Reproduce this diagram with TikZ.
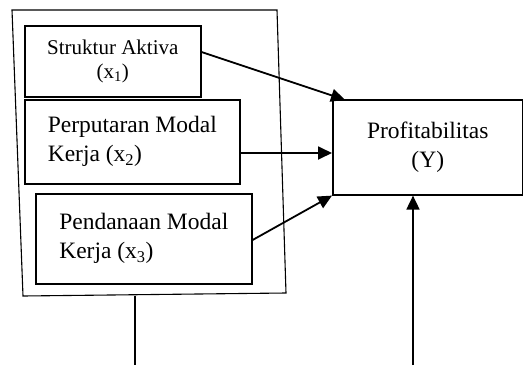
\documentclass[tikz,border=0pt]{standalone}
\usepackage{fontspec}
\setmainfont{Liberation Serif}
\usetikzlibrary{arrows.meta,calc}
\begin{document}
\begin{tikzpicture}[x=1pt,y=-1pt,
  varbox/.style={draw,line width=1.6pt,inner sep=0pt,anchor=north west},
  arr/.style={line width=1.8pt,-{Triangle[length=14pt,width=13pt]}},
  plain/.style={line width=1.1pt}]
\useasboundingbox (0,0) rectangle (523,365);
% outer frame
\coordinate (tl) at (12,10);
\coordinate (tr) at (277,10);
\coordinate (br) at (286,293);
\coordinate (bl) at (23,296);
\draw[plain] (tl) -- (tr) -- (br) -- (bl) -- cycle;
% boxes
\node[varbox,minimum width=176pt,minimum height=71pt,align=center,
  font=\fontsize{21}{24}\selectfont] (x1) at (24,25)
  {Struktur Aktiva\\(x\textsubscript{1})};
\node[varbox,minimum width=215pt,minimum height=84pt,align=left,
  font=\fontsize{23.5}{29}\selectfont] (x2) at (24,99)
  {Perputaran Modal\\Kerja (x\textsubscript{2})};
\node[varbox,minimum width=216pt,minimum height=90pt,align=left,
  font=\fontsize{23.5}{29}\selectfont] (x3) at (35,193)
  {Pendanaan Modal\\Kerja (x\textsubscript{3})};
\node[varbox,minimum width=190pt,minimum height=95pt,align=center,
  font=\fontsize{23.5}{29}\selectfont] (y) at (332,99)
  {Profitabilitas\\(Y)};
% arrows
\draw[arr] (x1.east |- 0,52) -- (345,99.8);
\draw[arr] (x2.east |- 0,153) -- (y.west |- 0,153);
\draw[arr] (x3.east |- 0,240) -- (y.south west);
% bottom lines
\coordinate (lb) at (135,295.5);
\coordinate (lend) at (135,365);
\draw[plain,line width=1.6pt] (lb) -- (lend);
\coordinate (rend) at (413,365);
\draw[arr] (rend) -- (rend |- y.south);
\end{tikzpicture}
\end{document}
